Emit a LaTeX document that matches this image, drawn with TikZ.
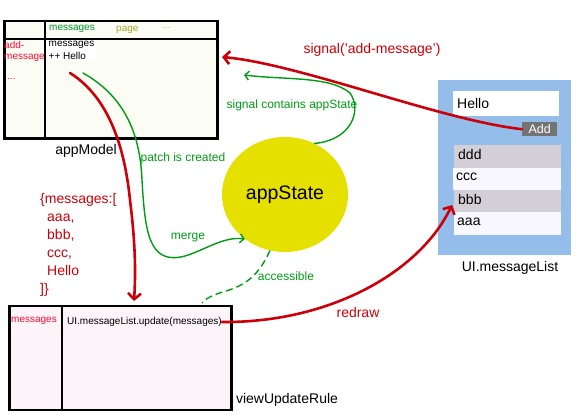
\documentclass[tikz,border=0pt]{standalone}
\usepackage{fontspec}
\setmainfont{Liberation Sans}
\usetikzlibrary{arrows.meta,positioning,shapes.geometric}
\definecolor{sigred}{RGB}{204,0,8}
\definecolor{keyred}{RGB}{255,10,50}
\definecolor{flowgreen}{RGB}{0,155,20}
\definecolor{modelbg}{RGB}{251,253,244}
\definecolor{rulebg}{RGB}{253,244,249}
\definecolor{panelblue}{RGB}{148,190,233}
\definecolor{rowgray}{RGB}{211,207,214}
\definecolor{rowwhite}{RGB}{250,248,255}
\definecolor{statey}{RGB}{230,224,0}
\begin{document}
\begin{tikzpicture}[x=1pt,y=-1pt,
  box/.style={draw=black,line width=2.5pt,anchor=north west,inner sep=0pt},
  small/.style={font=\fontsize{10}{12}\selectfont,inner sep=0pt,anchor=west},
  caption/.style={font=\fontsize{14}{16}\selectfont,inner sep=0pt},
  greenlabel/.style={font=\fontsize{12}{14}\selectfont,text=flowgreen,inner sep=0pt},
  row/.style={anchor=north west,inner sep=0pt,minimum width=107pt,minimum height=22.5pt},
  rowtext/.style={font=\fontsize{14}{16}\selectfont,inner sep=0pt,anchor=west},
  redflow/.style={draw=sigred,line width=2.6pt,line cap=round,-{Straight Barb[length=6pt,width=13pt]}},
  greenflow/.style={draw=flowgreen,line width=1.4pt,line cap=round,-{Straight Barb[length=4pt,width=9pt]}}]
\useasboundingbox (0,0) rectangle (581,420);

% appModel
\node[box,fill=modelbg,minimum width=213pt,minimum height=117pt] (model) at (3,20) {};
\draw[line width=2.5pt] (45,20) -- (45,137);
\draw[line width=1.5pt] (3,39) -- (216,39);
\node[small,text=flowgreen!80!teal] (hmsg) at (49,29) {messages};
\node[small,text=black!35!yellow!80!olive] (hpage) at (116,30) {page};
\node[small,text=yellow!60!green] (hdots) at (162,28) {...};
\node[small,text=keyred] (kadd) at (4,45) {add-};
\node[small,text=keyred] (kmsg) at (4,58) {message};
\node[small,text=keyred] (kdots) at (7,79) {...};
\node[small,fill=white,align=left,anchor=north west,inner sep=1.5pt,font=\fontsize{10}{13}\selectfont] (patch) at (47,39.5) {messages\\++ Hello};
\node[caption] (modellabel) at (86,151) {appModel};

% appState
\node[ellipse,fill=statey,minimum width=126pt,minimum height=115pt,inner sep=0pt,
  font=\fontsize{19.5}{22}\selectfont] (state) at (285,194.5) {appState};

% UI.messageList
\node[anchor=north west,fill=panelblue,minimum width=133pt,minimum height=175pt,inner sep=0pt] (panel) at (438,80) {};
\node[anchor=north west,fill=white,minimum width=106pt,minimum height=25pt,inner sep=0pt] (field) at (453,91) {};
\node[rowtext] (hello) at (457,103.5) {Hello};
\node[anchor=north west,fill=black!55,minimum width=35pt,minimum height=14pt,inner sep=0pt,
  text=white,font=\fontsize{12.5}{14}\selectfont] (add) at (522,122) {Add};
\node[row,fill=rowgray] (r1) at (454,145) {};
\node[row,fill=rowwhite,minimum width=108pt] (r2) at (453,167.5) {};
\node[row,fill=rowgray] (r3) at (454,189.5) {};
\node[row,fill=rowwhite] (r4) at (454,212) {};
\node[rowtext] (t1) at (458,154) {ddd};
\node[rowtext] (t2) at (456,177) {ccc};
\node[rowtext] (t3) at (458,199) {bbb};
\node[rowtext] (t4) at (457,222) {aaa};
\node[caption] (panellabel) at (510,268) {UI.messageList};

% viewUpdateRule
\node[box,fill=rulebg,minimum width=222pt,minimum height=104pt] (rule) at (8,304.5) {};
\draw[line width=2.5pt] (62,304.5) -- (62,408.5);
\node[small,text=keyred] (rmsg) at (11,321) {messages};
\node[small] (call) at (67,322) {UI.messageList.update(messages)};
\node[caption] (rulelabel) at (287,400) {viewUpdateRule};

% data in flight
\node[font=\fontsize{14}{18}\selectfont,text=sigred,align=left,anchor=north west,inner sep=0pt] (data)
  at (40,193) {\{messages:[\\\hspace{7pt}aaa,\\\hspace{7pt}bbb,\\\hspace{7pt}ccc,\\\hspace{7pt}Hello\\]\}};

% labels
\node[font=\fontsize{14}{16}\selectfont,text=sigred,inner sep=0pt] (sigtext) at (372,50) {signal('add-message')};
\node[greenlabel] (contains) at (292,105) {signal contains appState};
\node[greenlabel] (created) at (183,158) {patch is created};
\node[greenlabel] (mergetext) at (188,238) {merge};
\node[greenlabel] (accessible) at (286,276) {accessible};
\node[font=\fontsize{14}{16}\selectfont,text=sigred,inner sep=0pt] (redraw) at (358,312) {redraw};

% connectors
\coordinate (sigin) at (222,57);
\coordinate (patchin) at (244,75);
\coordinate (changes) at (70,73);
\coordinate (patchout) at (83,73);
\coordinate (ruletop) at (134,301);
\coordinate (ruleread) at (202,303);
\coordinate (rowin) at (452,205);
\draw[redflow] (add.west) .. controls (440,120) and (300,64) .. (sigin);
\draw[greenflow] (state.60) .. controls (352,140) and (362,110) .. (350,93)
  .. controls (330,76) and (285,80) .. (patchin);
\draw[redflow] (changes) .. controls (110,98) and (125,150) .. (130,200)
  .. controls (135,240) and (136,270) .. (ruletop);
\draw[greenflow] (patchout) .. controls (122,95) and (140,130) .. (142,180)
  .. controls (145,230) and (148,266) .. (185,256) .. controls (205,250) and (224,236) .. (state.228);
\draw[draw=flowgreen,line width=1.4pt,dashed,dash pattern=on 7pt off 4pt] (state.255)
  .. controls (259,275) and (246,285) .. (226,291) .. controls (212,295) and (205,299) .. (ruleread);
\draw[redflow] (call.east) .. controls (330,323) and (420,272) .. (rowin);
\end{tikzpicture}
\end{document}
